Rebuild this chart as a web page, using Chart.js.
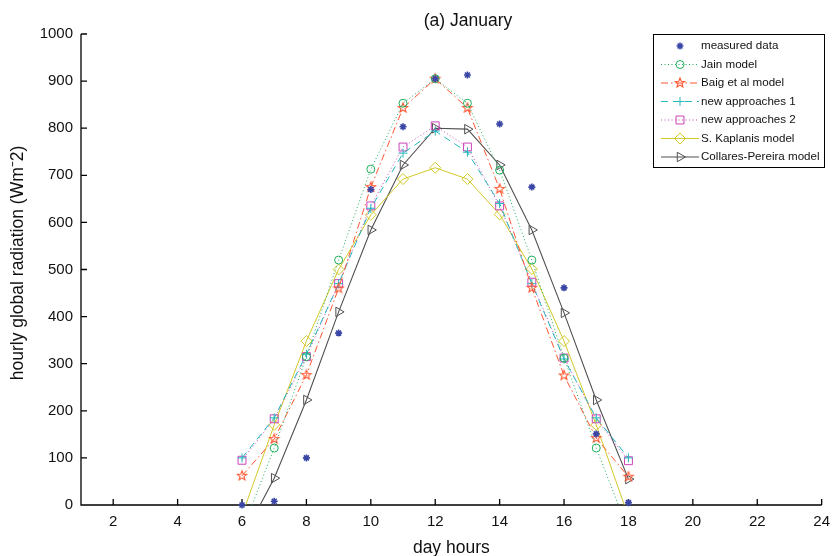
<!DOCTYPE html>
<html>
<head>
<meta charset="utf-8">
<script src="https://cdn.jsdelivr.net/npm/chart.js@4.4.1/dist/chart.umd.min.js"></script>
<style>
  html, body { margin: 0; padding: 0; background: #fff; }
  #wrap { width: 838px; height: 556px; }
</style>
</head>
<body>
<div id="wrap"><canvas id="januaryChart"></canvas></div>
<script>
// hourly values, January
const hours = [6, 7, 8, 9, 10, 11, 12, 13, 14, 15, 16, 17, 18]
const measured = [0, 8, 100, 365, 670, 803, 905, 913, 809, 675, 461, 151, 5]
const jain = [-55, 121, 315, 520, 713, 853, 905, 853, 711, 520, 312, 121, -55]
const baig = [62, 140, 276, 460, 675, 843, 905, 843, 671, 461, 275, 142, 60]
const newApproach1 = [100, 185, 320, 470, 630, 747, 794, 749, 640, 470, 310, 185, 100]
const newApproach2 = [95, 183, 315, 470, 635, 760, 805, 760, 635, 473, 312, 183, 94]
const kaplanis = [-22, 170, 348, 500, 616, 692, 716, 692, 617, 501, 348, 170, -25]
const collares = [-73, 57, 223, 410, 584, 722, 800, 798, 722, 584, 408, 223, 55]

const xTicks = [2, 4, 6, 8, 10, 12, 14, 16, 18, 20, 22, 24]
const yTicks = [0, 100, 200, 300, 400, 500, 600, 700, 800, 900, 1000]

const FONT = '"Liberation Sans", Arial, Helvetica, sans-serif'
const TEXT = '#111'

// outlined five-point star marker
function pentagram(color, r) {
    const s = Math.ceil(r * 2 + 4)
    const c = document.createElement('canvas')
    c.width = s
    c.height = s
    const g = c.getContext('2d')
    g.strokeStyle = color
    g.lineWidth = 1.1
    g.beginPath()
    for (let i = 0; i < 10; i++) {
        const a = -Math.PI / 2 + i * Math.PI / 5
        const rr = i % 2 === 0 ? r : r * 0.42
        const px = s / 2 + rr * Math.cos(a)
        const py = s / 2 + rr * Math.sin(a)
        if (i === 0) g.moveTo(px, py)
        else g.lineTo(px, py)
    }
    g.closePath()
    g.stroke()
    return c
}

function points(values) {
    return hours.map((h, i) => ({ x: h, y: values[i] }))
}

function series(label, values, color, dash, pointStyle, radius, extra = {}) {
    return Object.assign({
        label: label,
        data: points(values),
        borderColor: color,
        backgroundColor: 'rgba(0,0,0,0)',
        pointBackgroundColor: 'rgba(0,0,0,0)',
        pointBorderColor: color,
        borderWidth: 1,
        borderDash: dash,
        pointStyle: pointStyle,
        pointRadius: radius,
        pointHoverRadius: radius,
        pointBorderWidth: 1,
        tension: 0
    }, extra)
}

const datasets = [
    series('measured data', measured, '#3a46a6', [], 'star', 3.5, { showLine: false, pointBorderWidth: 1.6, clip: false }),
    series('Jain model', jain, '#1fae5c', [1, 2.5], 'circle', 4),
    series('Baig et al model', baig, '#ff5630', [7, 3, 1.5, 3], pentagram('#ff5630', 5), 5),
    series('new approaches 1', newApproach1, '#22b8bc', [7, 5], 'cross', 4.5),
    series('new approaches 2', newApproach2, '#cc44b8', [1, 2.5], 'rect', 5.6),
    series('S. Kaplanis model', kaplanis, '#d2c828', [], 'rectRot', 5.5),
    series('Collares-Pereira model', collares, '#505050', [], 'triangle', 5.5, { pointRotation: 90, borderWidth: 1.1 })
]

// axis lines with inward ticks, plus titles
const axesPlugin = {
    id: 'axesPlugin',
    beforeDatasetsDraw(chart) {
        const { ctx, chartArea: a, scales: { x, y } } = chart
        ctx.save()
        ctx.strokeStyle = '#000'
        ctx.lineWidth = 1.3
        ctx.beginPath()
        ctx.moveTo(a.left, a.top)
        ctx.lineTo(a.left, a.bottom)
        ctx.lineTo(a.right, a.bottom)
        yTicks.forEach(v => {
            const py = y.getPixelForValue(v)
            ctx.moveTo(a.left, py)
            ctx.lineTo(a.left + 6, py)
        })
        xTicks.forEach(v => {
            const px = x.getPixelForValue(v)
            ctx.moveTo(px, a.bottom)
            ctx.lineTo(px, a.bottom - 6)
        })
        ctx.stroke()

        ctx.fillStyle = TEXT
        ctx.font = '17.5px ' + FONT
        ctx.textAlign = 'center'
        ctx.textBaseline = 'middle'
        ctx.fillText('(a) January', 468, 21)
        ctx.fillText('day hours', (a.left + a.right) / 2, 548)
        ctx.translate(18, 263)
        ctx.rotate(-Math.PI / 2)
        ctx.fillText('hourly global radiation (Wm\u207B2)', 0, 0)
        ctx.restore()
    }
}

// boxed legend with line sample and marker
const legendPlugin = {
    id: 'legendPlugin',
    afterDraw(chart) {
        const ctx = chart.ctx
        const box = { x: 653.5, y: 34.5, w: 171, h: 133 }
        ctx.save()
        ctx.fillStyle = '#fff'
        ctx.fillRect(box.x, box.y, box.w, box.h)
        ctx.strokeStyle = '#000'
        ctx.lineWidth = 1
        ctx.strokeRect(box.x, box.y, box.w, box.h)
        ctx.font = '11.6px ' + FONT
        ctx.textBaseline = 'middle'
        ctx.textAlign = 'left'
        chart.data.datasets.forEach((ds, i) => {
            const cy = 46 + i * 18.5
            if (ds.showLine !== false) {
                ctx.strokeStyle = ds.borderColor
                ctx.lineWidth = ds.borderWidth
                ctx.setLineDash(ds.borderDash)
                ctx.beginPath()
                ctx.moveTo(661, cy)
                ctx.lineTo(699, cy)
                ctx.stroke()
            }
            ctx.setLineDash([])
            ctx.strokeStyle = ds.pointBorderColor
            ctx.fillStyle = 'rgba(0,0,0,0)'
            ctx.lineWidth = ds.pointBorderWidth
            Chart.helpers.drawPoint(ctx, {
                pointStyle: ds.pointStyle,
                radius: ds.pointRadius,
                rotation: ds.pointRotation || 0,
                borderWidth: ds.pointBorderWidth
            }, 680, cy)
            ctx.fillStyle = TEXT
            ctx.fillText(ds.label, 701, cy)
        })
        ctx.restore()
    }
}

const tickFont = { family: FONT, size: 15 }

new Chart(document.getElementById('januaryChart'), {
    type: 'line',
    data: { datasets: datasets },
    options: {
        responsive: true,
        maintainAspectRatio: false,
        animation: false,
        events: [],
        layout: { padding: { top: 34, right: 12, left: 0, bottom: 0 } },
        plugins: {
            legend: { display: false },
            title: { display: false },
            tooltip: { enabled: false }
        },
        scales: {
            x: {
                type: 'linear',
                min: 1,
                max: 24,
                afterBuildTicks: s => { s.ticks = xTicks.map(v => ({ value: v })) },
                afterFit: s => { s.height = 51 },
                grid: { display: false, drawTicks: false },
                border: { display: false },
                ticks: { font: tickFont, color: TEXT, padding: 8, maxRotation: 0, autoSkip: false, callback: v => String(v) }
            },
            y: {
                type: 'linear',
                min: 0,
                max: 1000,
                afterBuildTicks: s => { s.ticks = yTicks.map(v => ({ value: v })) },
                afterFit: s => { s.width = 81 },
                grid: { display: false, drawTicks: false },
                border: { display: false },
                ticks: { font: tickFont, color: TEXT, padding: 8, autoSkip: false, callback: v => String(v) }
            }
        }
    },
    plugins: [axesPlugin, legendPlugin]
})
</script>
</body>
</html>
